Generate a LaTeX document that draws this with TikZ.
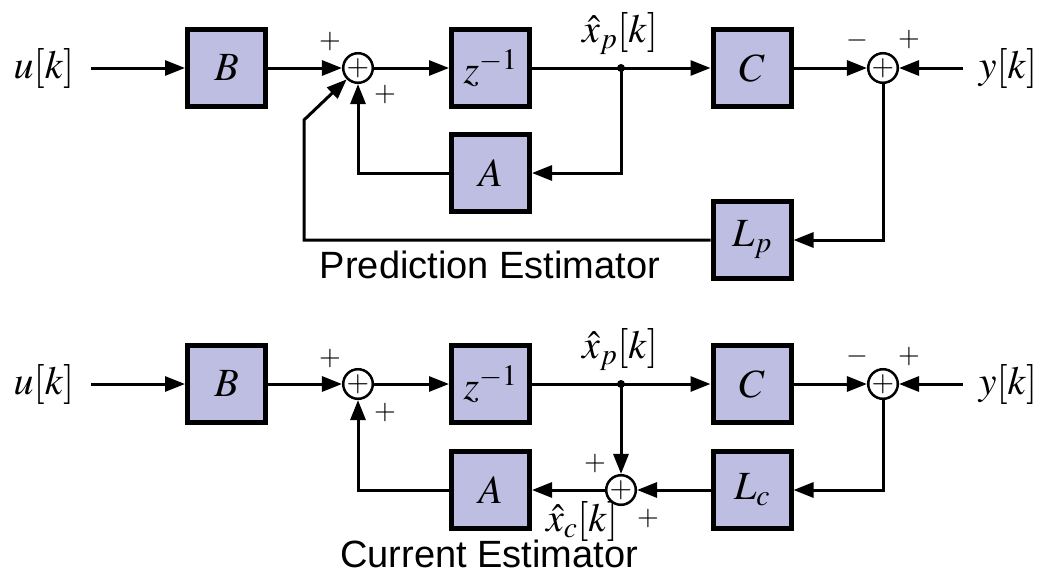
\documentclass[tikz,border=0pt]{standalone}
\usepackage{mathptmx}
\usepackage{fontspec}
\setsansfont{Liberation Sans}
\usetikzlibrary{arrows.meta}
\definecolor{boxfill}{RGB}{190,190,226}
\begin{document}
\begin{tikzpicture}[x=1pt,y=-1pt,
  blk/.style={draw, line width=5pt, fill=boxfill, minimum width=78pt, minimum height=77pt, inner sep=0pt, font=\fontsize{40}{44}\selectfont},
  sumc/.style={draw, circle, line width=2.5pt, minimum size=26pt, inner sep=0pt, font=\fontsize{29}{29}\selectfont},
  lab/.style={font=\fontsize{40}{44}\selectfont, inner ysep=0pt, inner xsep=16pt},
  sgn/.style={font=\fontsize{28}{30}\selectfont, inner sep=0pt},
  ttl/.style={font=\fontsize{38}{40}\selectfont\sffamily, anchor=base, inner sep=0pt},
  dotn/.style={circle, fill, inner sep=0pt, minimum size=8pt},
  arr/.style={line width=3pt, -{Triangle[length=20pt,width=15pt]}},
  ln/.style={line width=3pt},
]
\useasboundingbox (0,0) rectangle (1047,571);

% ---------- Prediction estimator ----------
\node[lab] (u1) at (44,68) {$u[k]$};
\node[blk] (B1) at (226.5,68) {$B$};
\node[sumc] (S1) at (358,68) {$+$};
\node[blk] (Z1) at (490.5,68) {$z^{-1}$};
\node[blk] (A1) at (490.5,173) {$A$};
\node[dotn] (D1) at (621,68) {};
\node[blk] (C1) at (752,68) {$C$};
\node[sumc] (S2) at (883,68) {$+$};
\node[lab] (y1) at (1008,68) {$y[k]$};
\node[blk] (L1) at (752,240) {$L_p$};
\coordinate (K1) at (304,120);
\node[lab, inner xsep=0pt] (xp1) at (620,34) {$\hat{x}_p[k]$};

\node[sgn] (s1a) at (330,42) {$+$};
\node[sgn] (s1b) at (385,95) {$+$};
\node[sgn] (s2a) at (857,40) {$-$};
\node[sgn] (s2b) at (909,40) {$+$};

\draw[arr] (u1.east) -- (B1.west);
\draw[arr] (B1) -- (S1);
\draw[arr] (S1) -- (Z1);
\draw[ln] (Z1.east) -- (D1.center);
\draw[arr] (D1.center) -- (C1.west);
\draw[arr] (C1) -- (S2);
\draw[arr] (y1.west) -- (S2.east);
\draw[arr] (D1.center) |- (A1.east);
\draw[arr] (A1.west) -| (S1.south);
\draw[arr] (S2.south) |- (L1.east);
\draw[arr] (L1.west) -| (K1) -- (S1.south west);

\node[ttl] (t1) at (490,278) {Prediction Estimator};

% ---------- Current estimator ----------
\node[lab] (u2) at (44,384) {$u[k]$};
\node[blk] (B2) at (226.5,384) {$B$};
\node[sumc] (S3) at (358,384) {$+$};
\node[blk] (Z2) at (490.5,384) {$z^{-1}$};
\node[blk] (A2) at (490.5,490) {$A$};
\node[dotn] (D2) at (621,384) {};
\node[blk] (C2) at (752,384) {$C$};
\node[sumc] (S4) at (883,384) {$+$};
\node[lab] (y2) at (1008,384) {$y[k]$};
\node[blk] (L2) at (752,490) {$L_c$};
\node[sumc] (S5) at (621,490) {$+$};
\node[lab, inner xsep=0pt] (xp2) at (620,350) {$\hat{x}_p[k]$};
\node[lab, inner xsep=0pt] (xc2) at (582,521) {$\hat{x}_c[k]$};

\node[sgn] (s3a) at (330,358) {$+$};
\node[sgn] (s3b) at (385,412) {$+$};
\node[sgn] (s4a) at (857,356) {$-$};
\node[sgn] (s4b) at (909,356) {$+$};
\node[sgn] (s5a) at (595,463) {$+$};
\node[sgn] (s5b) at (648,518) {$+$};

\draw[arr] (u2.east) -- (B2.west);
\draw[arr] (B2) -- (S3);
\draw[arr] (S3) -- (Z2);
\draw[ln] (Z2.east) -- (D2.center);
\draw[arr] (D2.center) -- (C2.west);
\draw[arr] (C2) -- (S4);
\draw[arr] (y2.west) -- (S4.east);
\draw[arr] (D2.center) -- (S5.north);
\draw[arr] (S4.south) |- (L2.east);
\draw[arr] (L2) -- (S5);
\draw[arr] (S5) -- (A2);
\draw[arr] (A2.west) -| (S3.south);

\node[ttl] (t2) at (489,567) {Current Estimator};
\end{tikzpicture}
\end{document}
